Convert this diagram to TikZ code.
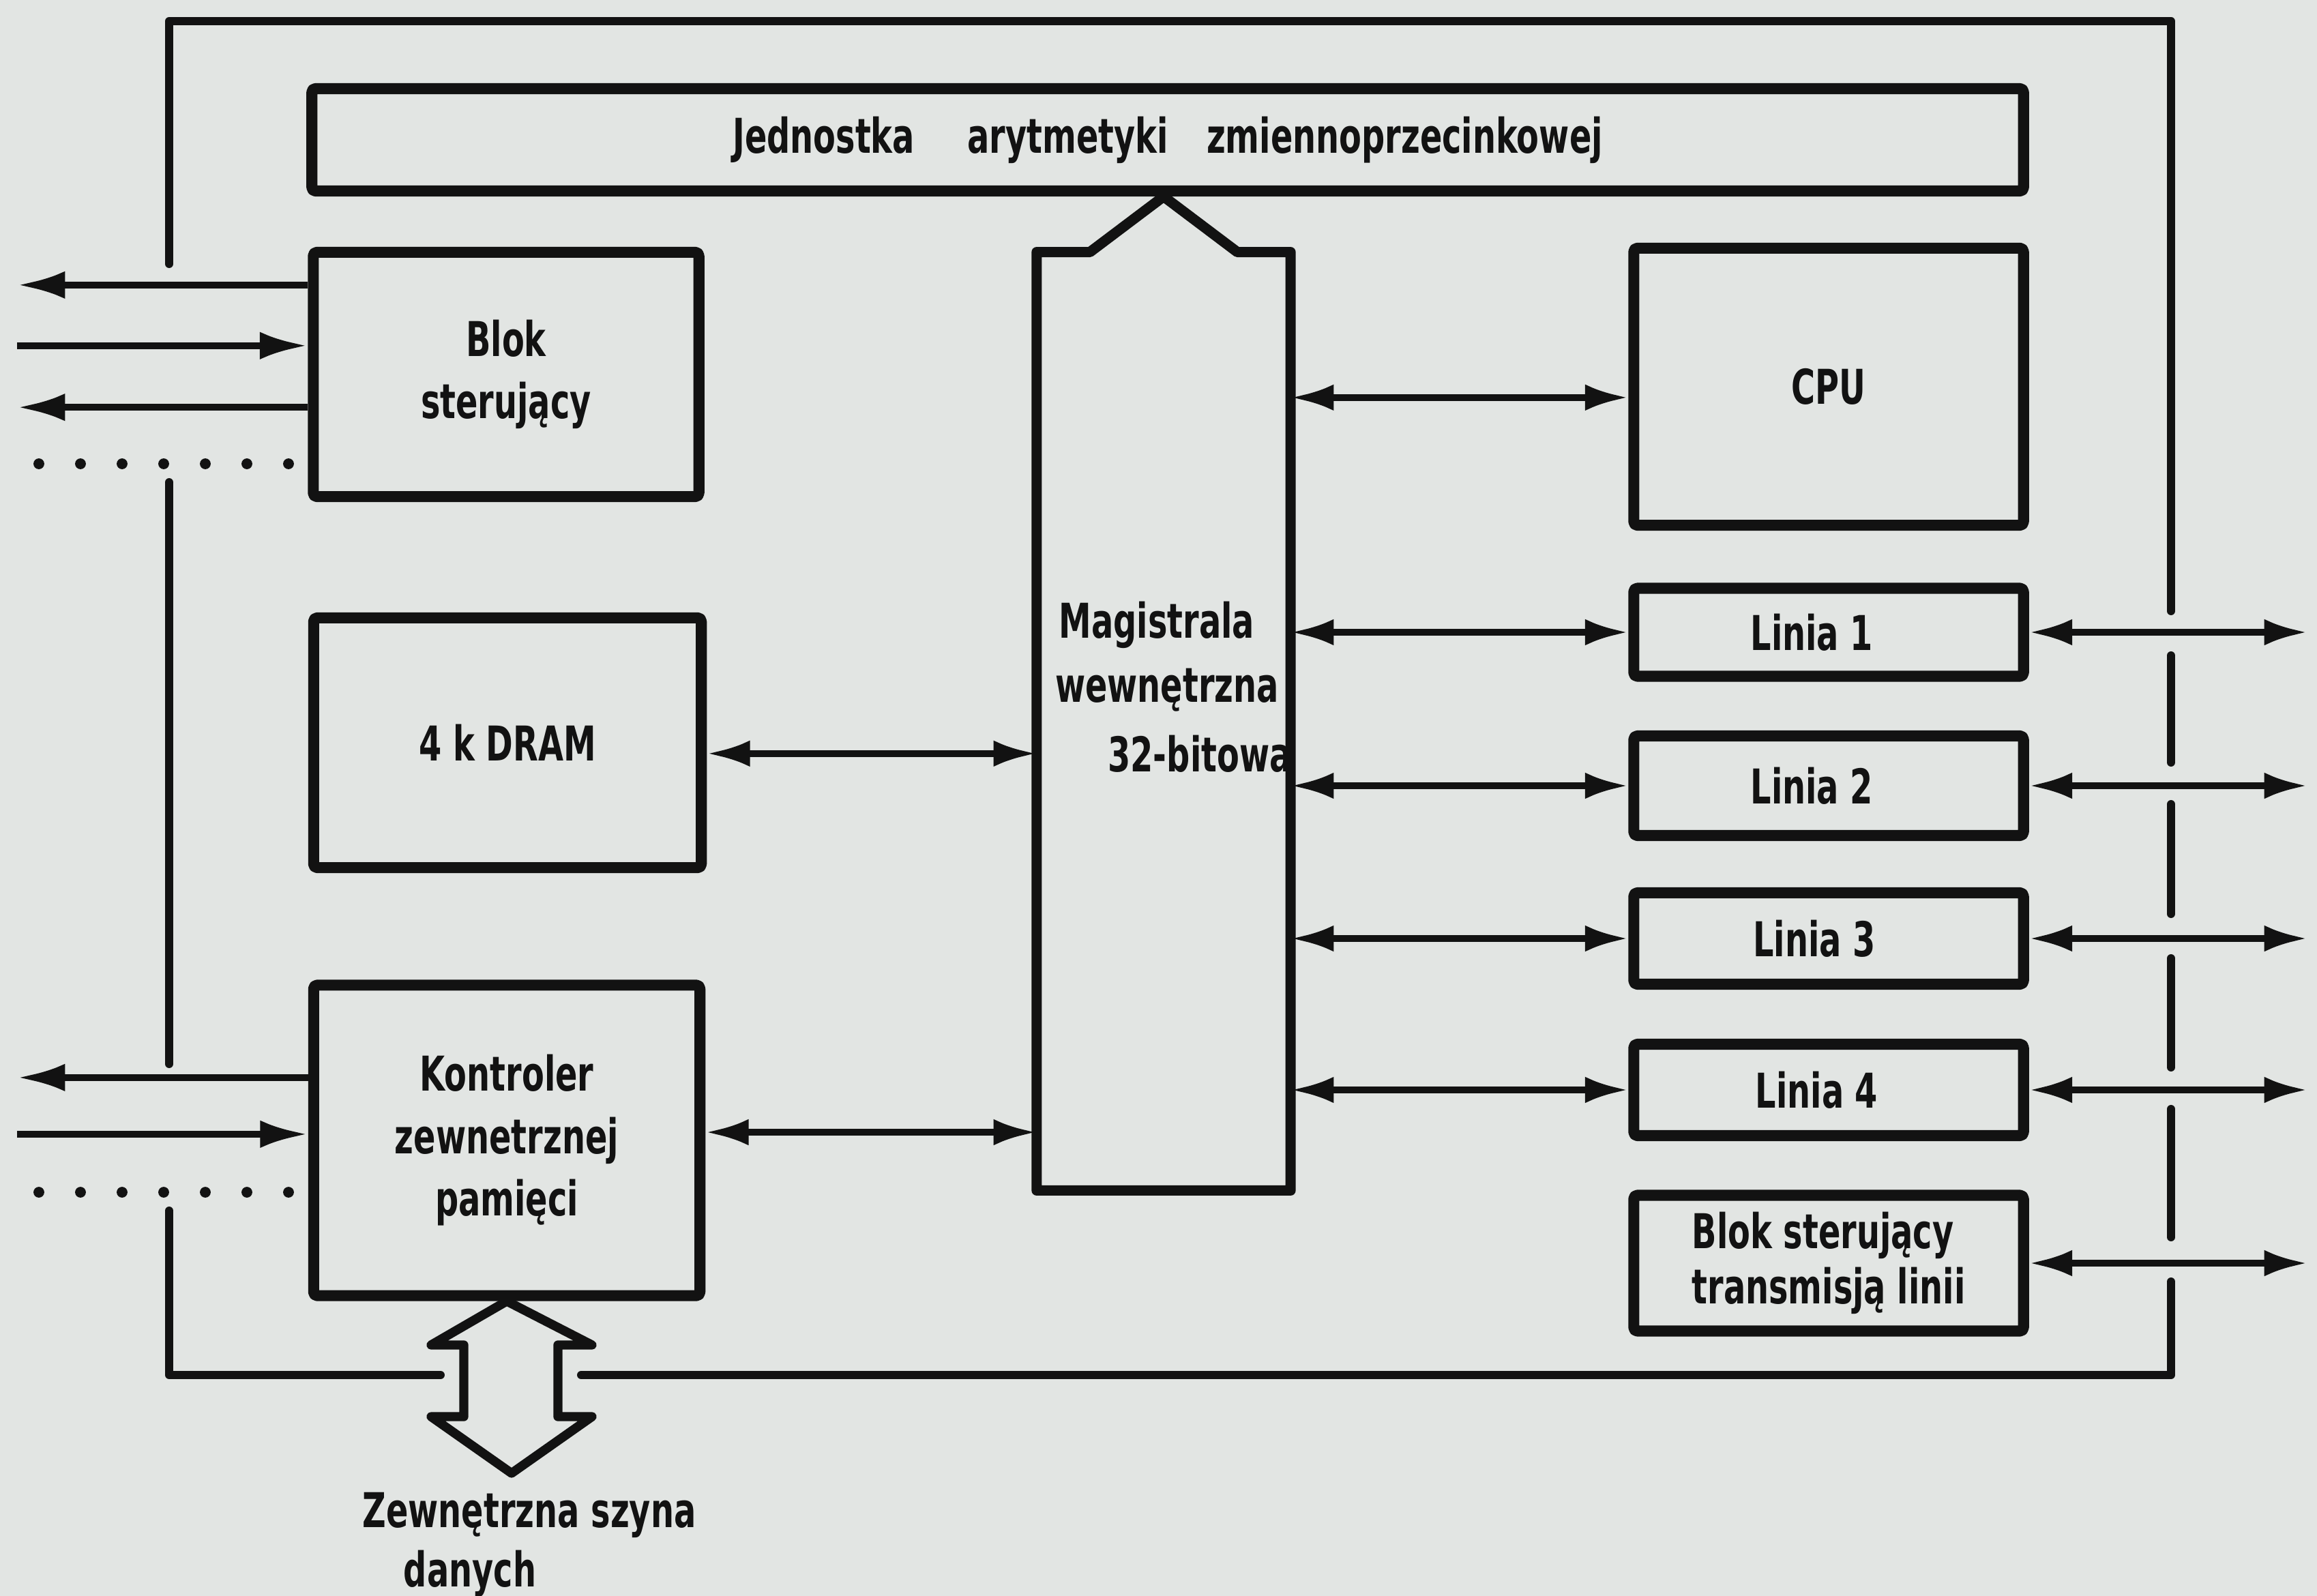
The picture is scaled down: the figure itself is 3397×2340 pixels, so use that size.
\documentclass[tikz,border=0pt]{standalone}
\usepackage{fontspec}
\newfontfamily\lbl{DejaVu Sans}[FakeStretch=0.68]
\usetikzlibrary{arrows.meta}
\definecolor{paper}{RGB}{226,229,227}
\definecolor{ink}{RGB}{18,18,18}
\begin{document}
\begin{tikzpicture}[x=0.01cm,y=-0.01cm,
  lblfont/.style={font=\lbl\bfseries\fontsize{20}{26}\selectfont},
  box/.style={draw=ink, line width=4.6pt, line join=round, rounded corners=1.5pt,
    minimum width=5.71cm, align=center, lblfont, text=ink, inner sep=0pt},
  busline/.style={draw=ink, line width=4.3pt, line join=round},
  frame/.style={draw=ink, line width=3.4pt, line cap=round, line join=round},
  biarrow/.style={draw=ink, line width=2.8pt, {Latex[length=18pt,width=11pt]}-{Latex[length=18pt,width=11pt]}},
  uniarrow/.style={draw=ink, line width=3pt, -{Latex[length=20pt,width=11.5pt]}},
  txt/.style={text=ink, lblfont, inner sep=0pt},
  ldot/.style={fill=ink, draw=none, circle, inner sep=0pt, minimum size=4.5pt},
  bigarrow/.style={draw=ink, line width=3.8pt, line join=round}
]
\fill[paper] (0,0) rectangle (3397,2340);
\useasboundingbox (0,0) rectangle (3397,2340);

% outer frame (broken where the lines cross it)
\draw[frame] (248,387) -- (248,31) -- (3183,31) -- (3183,896);
\draw[frame] (3183,961) -- (3183,1118);
\draw[frame] (3183,1179) -- (3183,1340);
\draw[frame] (3183,1405) -- (3183,1565);
\draw[frame] (3183,1626) -- (3183,1814);
\draw[frame] (3183,1879) -- (3183,2016) -- (852,2016);
\draw[frame] (646,2016) -- (248,2016) -- (248,1775);
\draw[frame] (248,1560) -- (248,707);

% blocks
\node[box, minimum width=25.08cm, minimum height=1.5cm] (fpu) at (1712,205)
  {Jednostka\hspace{22pt}arytmetyki\hspace{16pt}zmiennoprzecinkowej};
\node[box, minimum width=5.65cm, minimum height=3.58cm] (blok) at (742,549) {Blok\\sterujący};
\node[box, minimum width=5.68cm, minimum height=3.66cm] (dram) at (744,1089) {4 k DRAM};
\node[box, minimum width=5.66cm, minimum height=4.55cm] (kontr) at (743,1672)
  {Kontroler\\zewnetrznej\\pamięci};

\node[box, minimum height=4.06cm] (cpu) at (2681,567) {CPU};
\node[box, minimum height=1.29cm] (l1) at (2681,927) {Linia 1\hspace{14pt}};
\node[box, minimum height=1.46cm] (l2) at (2681,1152) {Linia 2\hspace{14pt}};
\node[box, minimum height=1.34cm] (l3) at (2681,1376) {Linia 3\hspace{12pt}};
\node[box, minimum height=1.34cm] (l4) at (2681,1598) {Linia 4\hspace{10pt}};
\node[box, minimum height=1.99cm, align=left, font=\lbl\bfseries\fontsize{20}{23}\selectfont] (bt) at (2681,1852)
  {Blok sterujący\\transmisją linii\hspace{6pt}};

% internal bus
\node[minimum width=3.72cm, minimum height=13.75cm, inner sep=0pt, outer sep=0pt] (bus) at (1706,1057.5) {};
\draw[busline] (bus.south west) -- (bus.north west) -- ([xshift=0.78cm]bus.north west)
  -- (bus.center |- fpu.south) -- ([xshift=-0.78cm]bus.north east) -- (bus.north east)
  -- (bus.south east) -- cycle;
\node[txt] (m1) at (1696,916) {Magistrala};
\node[txt] (m2) at (1711,1012) {wewnętrzna};
\node[txt] (m3) at (1759,1105) {32-bitowa};

% bus connections
\draw[biarrow] ([yshift=-4.5pt]dram.east) -- ([yshift=-4.5pt]dram.east -| bus.west);
\draw[biarrow] ([yshift=3.4pt]kontr.east) -- ([yshift=3.4pt]kontr.east -| bus.west);
\draw[biarrow] ([yshift=-4.5pt]cpu.west -| bus.east) -- ([yshift=-4.5pt]cpu.west);
\draw[biarrow] (l1.west -| bus.east) -- (l1.west);
\draw[biarrow] (l2.west -| bus.east) -- (l2.west);
\draw[biarrow] (l3.west -| bus.east) -- (l3.west);
\draw[biarrow] (l4.west -| bus.east) -- (l4.west);

% external lines on the right
\coordinate (redge) at (3383,0);
\draw[biarrow] (l1.east) -- (l1.east -| redge);
\draw[biarrow] (l2.east) -- (l2.east -| redge);
\draw[biarrow] (l3.east) -- (l3.east -| redge);
\draw[biarrow] (l4.east) -- (l4.east -| redge);
\draw[biarrow] (bt.east) -- (bt.east -| redge);

% external lines on the left
\coordinate (ledge) at (25,0);
\draw[uniarrow] ([yshift=37.3pt]blok.west) -- ([yshift=37.3pt]blok.west -| ledge);
\draw[uniarrow] ([yshift=12pt]blok.west -| ledge) -- ([yshift=12pt]blok.west);
\draw[uniarrow] ([yshift=-13.7pt]blok.west) -- ([yshift=-13.7pt]blok.west -| ledge);
\draw[uniarrow] ([yshift=26.2pt]kontr.west) -- ([yshift=26.2pt]kontr.west -| ledge);
\draw[uniarrow] ([yshift=2.6pt]kontr.west -| ledge) -- ([yshift=2.6pt]kontr.west);

\foreach \i in {0,...,6} {
  \node[ldot] (da\i) at (57+61*\i,680) {};
  \node[ldot] (db\i) at (57+61*\i,1748) {};
}

% external data bus (double arrow)
\draw[bigarrow] (kontr.south) -- (868,1972) -- (818,1972) -- (818,2077) -- (868,2077)
  -- (750,2160) -- (632,2077) -- (680,2077) -- (680,1972) -- (632,1972) -- cycle;
\node[txt] (szyna) at (776,2221) {Zewnętrzna szyna};
\node[txt] (danych) at (689,2307) {danych};
\end{tikzpicture}
\end{document}
